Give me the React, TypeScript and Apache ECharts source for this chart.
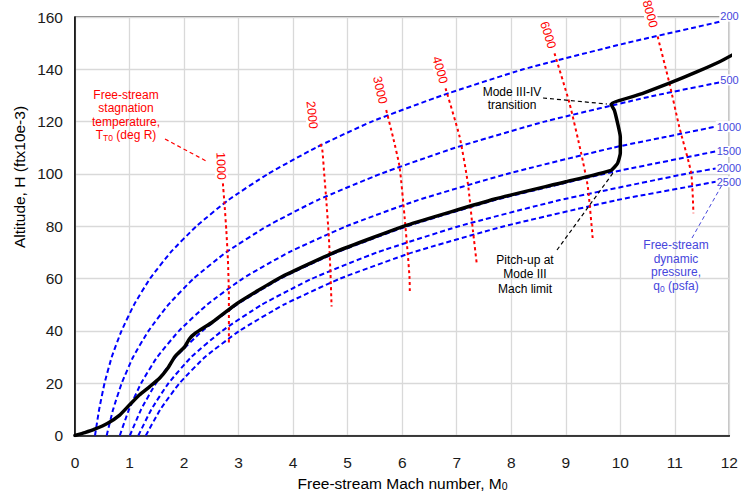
import React, { useEffect, useRef } from "react";
import * as echarts from "echarts";

// ---- axis ticks ----
const machTicks = [0, 12, 1]; // min, max, interval
const altTicks = [0, 160, 20];

// ---- dynamic pressure lines (Mach, altitude kft) ----
const qLabels = ["200", "500", "1000", "1500", "2000", "2500"];
const q200 = [[0.367,0],[0.443,10],[0.542,20],[0.674,30],[0.853,40],[1.083,50],[1.376,60],[1.753,70],[2.225,80],[2.81,90],[3.54,100],[4.41,110],[5.44,120],[6.73,130],[8.22,140],[10.1,150],[11.87,158.4]];
const q500 = [[0.581,0],[0.7,10],[0.857,20],[1.066,30],[1.348,40],[1.712,50],[2.175,60],[2.77,70],[3.52,80],[4.45,90],[5.6,100],[6.97,110],[8.61,120],[10.64,130],[11.87,135.2]];
const q1000 = [[0.822,0],[0.991,10],[1.213,20],[1.508,30],[1.907,40],[2.422,50],[3.076,60],[3.92,70],[4.975,80],[6.29,90],[7.92,100],[9.86,110],[10.84,114.2],[11.75,118.1]];
const q1500 = [[1.006,0],[1.213,10],[1.485,20],[1.846,30],[2.336,40],[2.966,50],[3.767,60],[4.8,70],[6.09,80],[7.7,90],[9.7,100],[11.75,108.6]];
const q2000 = [[1.162,0],[1.401,10],[1.715,20],[2.132,30],[2.697,40],[3.425,50],[4.35,60],[5.54,70],[7.04,80],[8.89,90],[11.19,100],[11.75,102.1]];
const q2500 = [[1.299,0],[1.566,10],[1.917,20],[2.384,30],[3.015,40],[3.829,50],[4.863,60],[6.19,70],[7.87,80],[9.94,90],[11.75,97.0]];

// ---- stagnation temperature lines (Mach, altitude kft) ----
const tLabels = ["1000", "2000", "3000", "4000", "6000", "8000"];
const t1000 = [[2.712,96.4],[2.745,87.5],[2.775,78.4],[2.804,67.1],[2.822,53.1],[2.822,34.6]];
const t2000 = [[4.5,111.5],[4.535,109.2],[4.57,100],[4.608,90],[4.655,76],[4.685,62],[4.705,49.3]];
const t3000 = [[5.707,124.4],[5.83,114.2],[5.951,102.8],[6.043,83.7],[6.1,70],[6.135,60.1],[6.14,54.5]];
const t4000 = [[6.795,132.7],[7.053,114.2],[7.204,96.4],[7.296,78.6],[7.37,65.2]];
const t6000 = [[8.793,146.1],[9.068,127],[9.282,107.9],[9.404,95.1],[9.496,74.7]];
const t8000 = [[10.685,152.5],[10.9,134.7],[11.08,118.1],[11.3,100.2],[11.34,85]];

// ---- vehicle trajectory ----
const trajectory = [[0,0],[0.18,1.1],[0.36,2.4],[0.6,4.7],[0.82,7.8],[1.0,11.7],[1.18,15.5],[1.37,18.7],[1.55,21.9],[1.7,25.7],[1.83,30.1],[2.01,33.9],[2.1,37.0],[2.2,39.0],[2.53,43.5],[2.966,50.4],[3.767,60.4],[4.8,70.4],[6.09,80.4],[7.7,90.4],[9.0,97.0],[9.83,101.4],[9.95,104.1],[10.0,107.9],[10.0,114.2],[9.95,119.4],[9.89,124.4],[9.83,126.6],[10.4,130.7],[10.9,134.7],[11.4,139],[11.82,142.9],[12.09,145.9]];

const FONT = "'Liberation Sans', Arial, sans-serif";
const BLUE_TXT = "#4646dc";
const RED = "#ff0000";

export default function App() {
  const ref = useRef<HTMLDivElement>(null);
  useEffect(() => {
    const chart = echarts.init(ref.current!, null, { renderer: "svg" });
    const qData = [q200, q500, q1000, q1500, q2000, q2500];
    const tData = [t1000, t2000, t3000, t4000, t6000, t8000];
    const qOffsets = [[-3, -5], [-3, -2], [0, 0], [0, 0], [0, 0], [0, 0]];

    const qSeries = qData.map((d, i) => ({
      type: "line",
      name: "q" + qLabels[i],
      data: d,
      showSymbol: false,
      smooth: 0.15,
      z: 3,
      lineStyle: { color: "#0000ff", width: 2, type: [5, 3] },
      endLabel: {
        show: true,
        formatter: qLabels[i],
        color: BLUE_TXT,
        fontSize: 11,
        fontFamily: FONT,
        distance: 0,
        offset: qOffsets[i],
        backgroundColor: "#ffffff",
        padding: [0, 0, 0, 1],
      },
    }));
    const tSeries = tData.map((d, i) => ({
      type: "line",
      name: "T" + tLabels[i],
      data: d,
      showSymbol: false,
      smooth: 0.2,
      z: 3,
      lineStyle: { color: RED, width: 2, type: [3, 3] },
    }));

    const tLabelPos = [
      [221, 166, -88],
      [312, 115, -84],
      [380, 90, -77],
      [440, 70, -74],
      [548, 35, -73],
      [650, 14, -75],
    ];

    const leader = (x1: number, y1: number, x2: number, y2: number, color: string, w = 1.2) => ({
      type: "line",
      z: 20,
      shape: { x1, y1, x2, y2 },
      style: { stroke: color, lineWidth: w, lineDash: [4, 3] },
    });
    const txt = (x: number, y: number, text: string, color: string, size: number, extra: any = {}) => ({
      type: "text",
      x,
      y,
      z: 25,
      style: {
        text,
        fill: color,
        fontSize: size,
        fontFamily: FONT,
        align: "center",
        verticalAlign: "middle",
        ...extra,
      },
    });

    const graphics: any[] = [
      ...tLabelPos.map((p, i) => ({
        type: "text",
        x: p[0],
        y: p[1],
        rotation: (p[2] * Math.PI) / 180,
        z: 25,
        style: {
          text: tLabels[i],
          fill: RED,
          fontSize: 12.5,
          fontFamily: FONT,
          align: "center",
          verticalAlign: "middle",
          backgroundColor: "#ffffff",
          padding: [0, 1, 0, 1],
        },
      })),
      txt(126, 115, "Free-stream\nstagnation\ntemperature,\nT{s|T0} (deg R)", RED, 12, {
        lineHeight: 13.5,
        rich: { s: { fontSize: 8.5, fill: RED, fontFamily: FONT, padding: [5, 0, 0, 0], lineHeight: 13.5 } },
      }),
      leader(165, 139, 208, 162, RED),
      txt(512, 98.5, "Mode III-IV\ntransition", "#000000", 12, { lineHeight: 13 }),
      leader(543, 98, 607, 104, "#000000"),
      txt(525, 274, "Pitch-up at\nMode III\nMach limit", "#000000", 12, { lineHeight: 14.5 }),
      leader(557, 250, 613, 173, "#000000"),
      txt(676, 265.5, "Free-stream\ndynamic\npressure,\nq{s|0} (psfa)", BLUE_TXT, 12, {
        lineHeight: 13.7,
        rich: { s: { fontSize: 8.5, fill: BLUE_TXT, fontFamily: FONT, padding: [5, 0, 0, 0], lineHeight: 13.7 } },
      }),
      leader(692, 238, 722, 185, BLUE_TXT, 1),
      txt(402.5, 483, "Free-stream Mach number, M{s|0}", "#000000", 15.5, {
        rich: { s: { fontSize: 10.5, fill: "#000000", fontFamily: FONT, padding: [6, 0, 0, 0] } },
      }),
      {
        type: "text",
        x: 19,
        y: 177,
        rotation: Math.PI / 2,
        z: 25,
        style: {
          text: "Altitude, H (ftx10e-3)",
          fill: "#000000",
          fontSize: 15.5,
          fontFamily: FONT,
          align: "center",
          verticalAlign: "middle",
        },
      },
    ];

    chart.setOption({
      animation: false,
      backgroundColor: "#ffffff",
      grid: {
        left: 75,
        right: 11,
        top: 17,
        bottom: 59.5,
        show: true,
        borderColor: "#000000",
        borderWidth: 1.2,
      },
      xAxis: {
        type: "value",
        min: machTicks[0],
        max: machTicks[1],
        interval: machTicks[2],
        axisLine: { show: true, onZero: false, lineStyle: { color: "#000000", width: 1.5 } },
        axisTick: { show: false },
        splitLine: { show: true, lineStyle: { color: "#d9d9d9", width: 1.3 } },
        axisLabel: { fontSize: 15.5, color: "#1a1a1a", margin: 19, fontFamily: FONT },
      },
      yAxis: {
        type: "value",
        min: altTicks[0],
        max: altTicks[1],
        interval: altTicks[2],
        axisLine: { show: true, onZero: false, lineStyle: { color: "#000000", width: 1.5 } },
        axisTick: { show: false },
        splitLine: { show: true, lineStyle: { color: "#d9d9d9", width: 1.3 } },
        axisLabel: { fontSize: 15.5, color: "#1a1a1a", margin: 12, fontFamily: FONT },
      },
      series: [
        ...qSeries,
        ...tSeries,
        {
          type: "line",
          name: "trajectory",
          data: trajectory,
          showSymbol: false,
          smooth: 0.15,
          z: 10,
          lineStyle: { color: "#000000", width: 3.5, cap: "round", join: "round" },
        },
      ],
      graphic: graphics,
    });
    return () => chart.dispose();
  }, []);
  return <div ref={ref} style={{ position: "fixed", left: 0, top: 0, width: 741, height: 495 }} />;
}
